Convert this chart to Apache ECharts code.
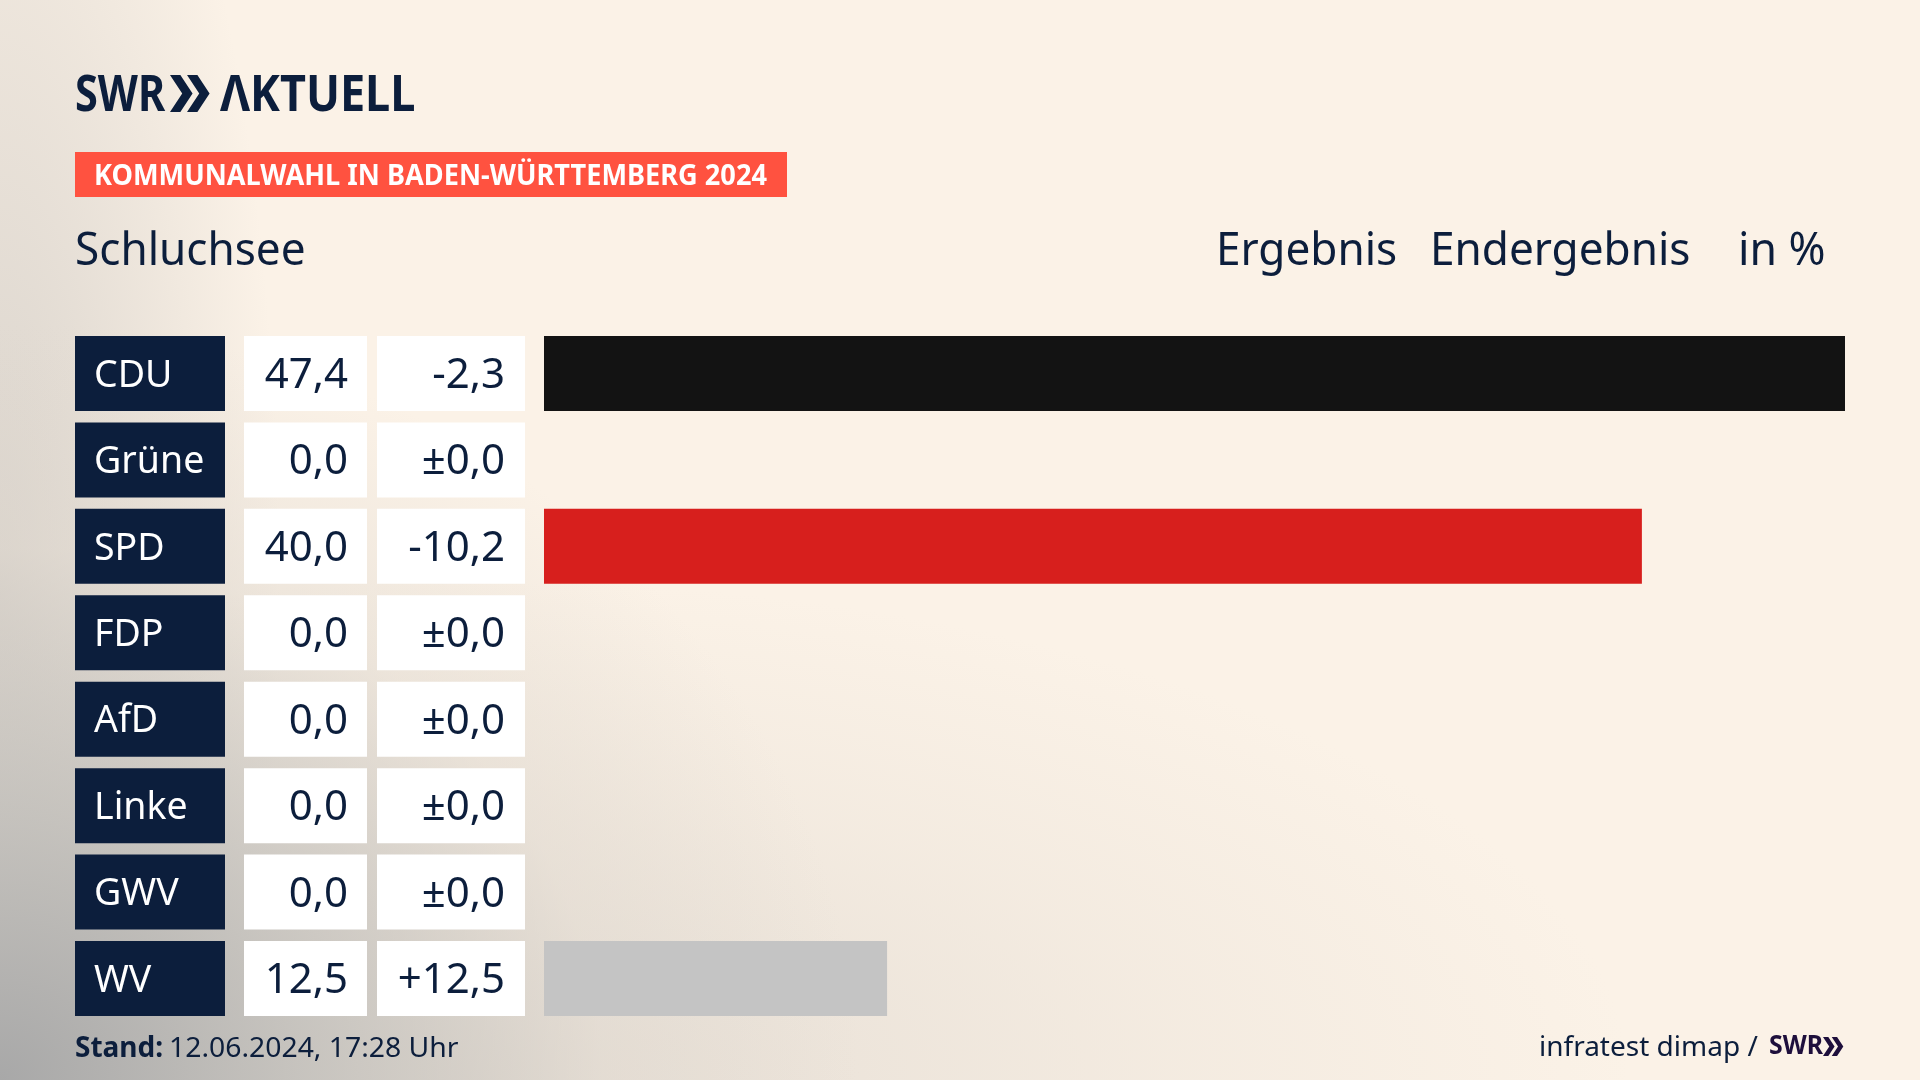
<!DOCTYPE html>
<html lang="de"><head><meta charset="utf-8"><title>Kommunalwahl Schluchsee</title>
<script src="https://cdn.jsdelivr.net/npm/echarts@6/dist/echarts.min.js"></script>
<style>
html,body{margin:0;padding:0;width:1920px;height:1080px;overflow:hidden}
body{background:
 radial-gradient(ellipse 860px 760px at 0% 100%, rgba(168,168,168,1) 0%, rgba(190,188,184,.8) 35%, rgba(222,215,206,.45) 70%, rgba(251,242,231,0) 100%),
 radial-gradient(ellipse 1150px 500px at 25% 100%, rgba(215,208,200,.6) 0%, rgba(230,222,212,.35) 60%, rgba(251,242,231,0) 100%),
 radial-gradient(ellipse 280px 1000px at 0% 55%, rgba(205,200,194,.75) 0%, rgba(251,242,231,0) 100%),
 #FBF2E7}
#c{width:1920px;height:1080px}
</style></head><body><div id="c"></div>
<script>
const parties = ['CDU','Grüne','SPD','FDP','AfD','Linke','GWV','WV'];
const results = [47.4,0,40,0,0,0,0,12.5];
const changes = [-2.3,0,-10.2,0,0,0,0,12.5];
const barColors = ['#131313','#D71F1D','#D71F1D','#FFD500','#009EE0','#BE3075','#999999','#C4C4C4'];
const NAVY = '#0C1E3C';
const FONT = '"Noto Sans", sans-serif';
const fmt = v => v.toFixed(1).replace('.', ',');
const fmtChange = v => v === 0 ? '±0,0' : (v > 0 ? '+' : '') + fmt(v);

function cellAxis(offset, width, bg, color, align, pad, size, formatter) {
  return {
    type:'category', data:parties, inverse:true, position:'left', offset,
    axisLine:{show:false}, axisTick:{show:false}, splitLine:{show:false},
    axisLabel:{
      interval:0, margin:0, color, fontFamily:FONT, fontSize:size,
      formatter:(v,i)=>`{t|${formatter(v,i)}}`,
      align, verticalAlign:'middle',
      backgroundColor:bg, width:width - pad, height:75,
      padding: align === 'left' ? [0,0,0,pad] : [0,pad,0,0],
      rich:{t:{color, fontFamily:FONT, fontSize:size, lineHeight:80}}
    }
  };
}
function chevrons(x, y, h, fill) {
  const w = h*0.33, gap = h*0.46, t = h*0.28;
  return [0,1].map(i => ({
    type:'polygon', z:5,
    shape:{points:[[x+i*gap,y],[x+i*gap+t,y],[x+i*gap+t+w,y+h/2],[x+i*gap+t,y+h],[x+i*gap,y+h],[x+i*gap+w,y+h/2]]},
    style:{fill}
  }));
}
function txt(x, y, text, size, weight, color, sx) {
  return {type:'text', x, y, z:5, scaleX:sx||1, style:{text, x:0, y:0, font:`${weight} ${size}px ${FONT}`, fill:color, align:'left', verticalAlign:'middle'}};
}
const chart = echarts.init(document.getElementById('c'), null, {renderer:'canvas', width:1920, height:1080});
chart.setOption({
  animation:false,
  backgroundColor:'transparent',
  grid:{left:544, width:1301, top:330.3, height:691.4, containLabel:false},
  xAxis:{type:'value', min:0, max:47.4, show:false},
  yAxis:[
    cellAxis(19, 148, '#FFFFFF', NAVY, 'right', 20, 42, (v,i)=>fmtChange(changes[i])),
    cellAxis(177, 123, '#FFFFFF', NAVY, 'right', 19, 42, (v,i)=>fmt(results[i])),
    cellAxis(469, 150, NAVY, '#FFFFFF', 'left', 19, 37.5, v=>v)
  ],
  series:[{
    type:'bar', yAxisIndex:0, barWidth:75, silent:true,
    data:results.map((v,i)=>({value:v, itemStyle:{color:barColors[i]}}))
  }],
  graphic:{elements:[
    txt(75, 97, 'SWR', 50, 700, NAVY, 0.83),
    ...chevrons(170, 75, 37, NAVY),
    txt(220, 97, 'ΛKTUELL', 50, 700, NAVY, 0.9),
    {type:'rect', z:4, shape:{x:75,y:152,width:712,height:45}, style:{fill:'#FF5240'}},
    txt(94, 177, 'KOMMUNALWAHL IN BADEN-WÜRTTEMBERG 2024', 28, 700, '#FFFFFF', 0.97),
    txt(75, 252.5, 'Schluchsee', 45, 400, NAVY, 0.98),
    txt(1216, 252.5, 'Ergebnis', 45, 400, NAVY, 0.98),
    txt(1430, 252.5, 'Endergebnis', 45, 400, NAVY, 0.98),
    txt(1738, 252.5, 'in %', 45, 400, NAVY, 0.99),
    txt(75, 1049.5, 'Stand:', 28, 700, NAVY),
    txt(169, 1049.5, '12.06.2024, 17:28 Uhr', 28, 400, NAVY, 1.012),
    txt(1539, 1048, 'infratest dimap /', 28, 400, NAVY),
    txt(1769, 1046, 'SWR', 27, 700, '#1E0F3C', 0.92),
    ...chevrons(1823, 1037, 19, '#1E0F3C')
  ]}
});
</script></body></html>
